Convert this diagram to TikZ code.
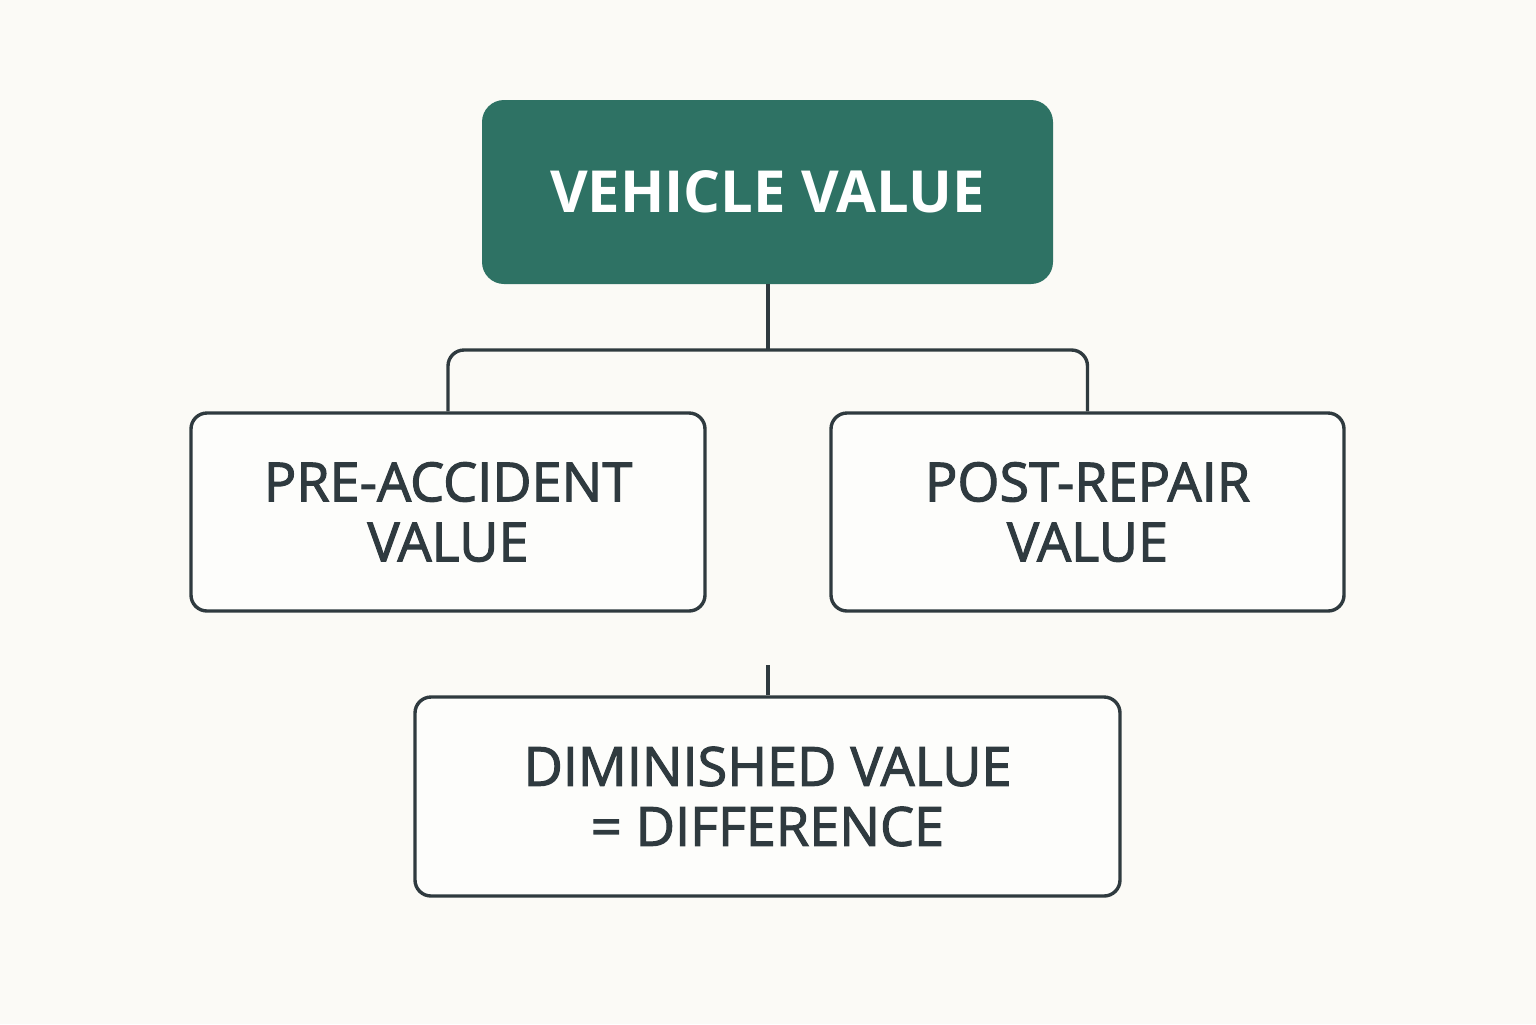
\documentclass[tikz,border=0pt]{standalone}
\usepackage{fontspec}
\setmainfont{Open Sans}
\usetikzlibrary{positioning}
\definecolor{bgcream}{HTML}{FBFAF6}
\definecolor{valgreen}{HTML}{2E7264}
\definecolor{slate}{HTML}{2F3A3F}
\newfontfamily\boxfont[FakeBold=2]{Open Sans}
\tikzset{
    valuebox/.style={draw=slate, line width=1.7pt, fill=white!60!bgcream, rounded corners=8pt,
        text=slate, align=center, font=\boxfont\fontsize{27}{30}\selectfont, inner sep=0pt},
    headbox/.style={fill=valgreen, rounded corners=11pt, text=white, align=center,
        font=\bfseries\fontsize{29}{34}\selectfont, inner sep=0pt},
    link/.style={draw=slate, line width=1.7pt},
}
\begin{document}
\begin{tikzpicture}[x=0.5pt, y=-0.5pt]
        %background and bounds
        \fill[bgcream] (0, 0) rectangle (1536, 1024);
        \useasboundingbox (0, 0) rectangle (1536, 1024);
        %draw boxes
        \node[headbox, minimum width=285.5pt, minimum height=92pt] (vehicle) at (767.5, 192) {VEHICLE VALUE};
        \node[valuebox, minimum width=257pt, minimum height=99pt] (pre) at (448, 512) {PRE-ACCIDENT\\VALUE};
        \node[valuebox, minimum width=256.5pt, minimum height=99pt] (post) at (1087.5, 512) {POST-REPAIR\\VALUE};
        \node[valuebox, minimum width=352.5pt, minimum height=99.5pt] (diff) at (767.5, 796.5) {DIMINISHED VALUE\\= DIFFERENCE};
        %draw connectors
        \coordinate (hub) at (768, 350);
        \coordinate (stub) at (768, 665);
        \draw[link] (vehicle.south -| hub) -- (hub);
        \draw[link, rounded corners=8pt] (pre.north) |- (hub) -| (post.north);
        \draw[link] (stub) -- (stub |- diff.north);
    \end{tikzpicture}
\end{document}
